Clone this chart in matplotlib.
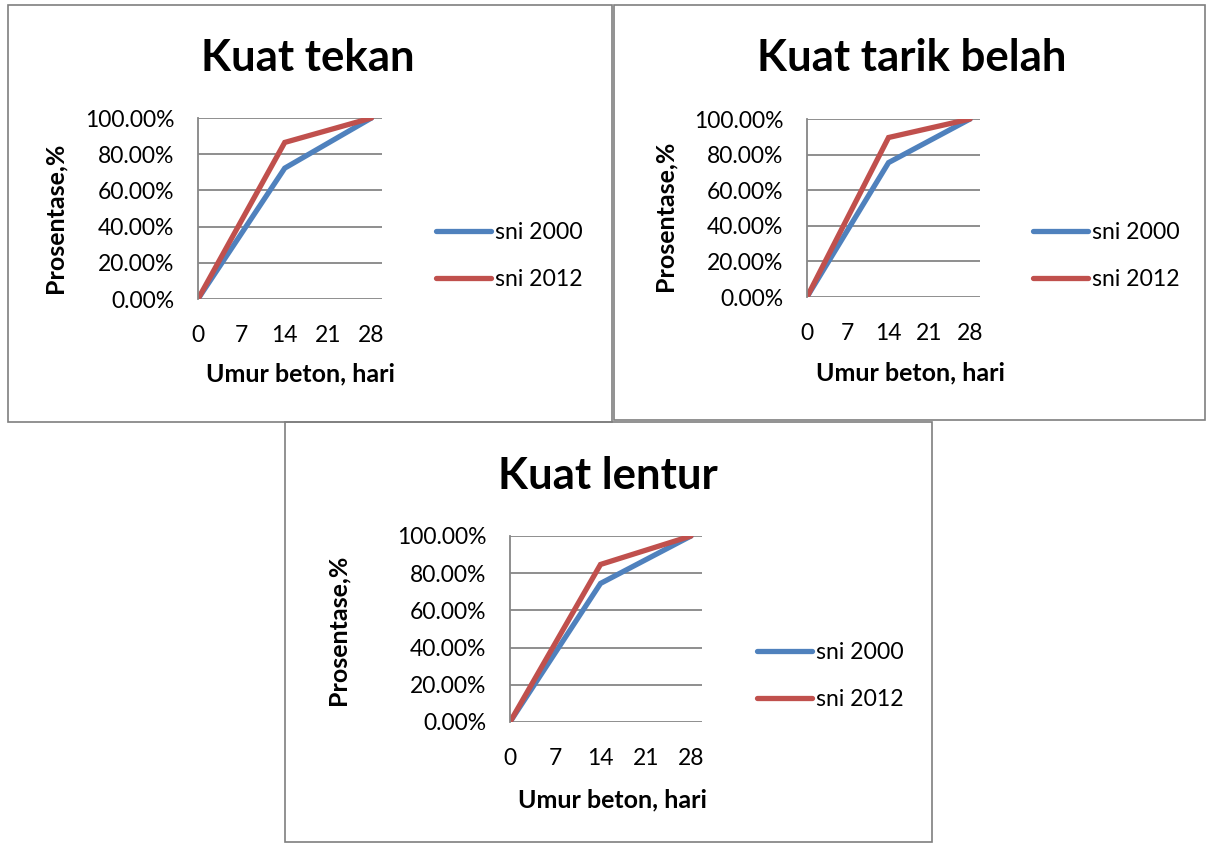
import numpy as np
import matplotlib
matplotlib.use('Agg')
import matplotlib.pyplot as plt
from matplotlib.patches import Rectangle
from matplotlib.ticker import PercentFormatter

plt.rcParams['font.family'] = ['Lato', 'DejaVu Sans']

# data
umur = [0, 14, 28]
xticks = [0, 7, 14, 21, 28]
titles = ['Kuat tekan', 'Kuat tarik belah', 'Kuat lentur']
sni_2000 = [[0, 72.3, 100], [0, 75.5, 100], [0, 74.5, 100]]
sni_2012 = [[0, 86.5, 100], [0, 89.6, 100], [0, 84.7, 100]]
series_names = ['sni 2000', 'sni 2012']

W, H = 1207, 843
fig = plt.figure(figsize=(W / 100, H / 100), dpi=100)


def fx(x):
    return x / W


def fy(y):
    return 1 - y / H


# panel layout in pixels
panels = [
    dict(box=(8, 5, 612, 422), ax=(198, 118, 382, 299), title=(308, 58),
         xlab=(301, 374), ylab=(55, 218), leg=(436, 232)),
    dict(box=(614, 5, 1205, 420), ax=(807, 119, 980, 297), title=(912, 58),
         xlab=(911, 373), ylab=(665, 216), leg=(1033, 232)),
    dict(box=(285, 422, 932, 842), ax=(510, 536, 702, 722), title=(608, 476),
         xlab=(613, 800), ylab=(338, 630), leg=(757, 652)),
]

blue = '#4F81BD'
red = '#C0504D'
grid = '#868686'

for i, p in enumerate(panels):
    x0, y0, x1, y1 = p['box']
    fig.patches.append(Rectangle((fx(x0), fy(y1)), fx(x1 - x0), (y1 - y0) / H,
                                 transform=fig.transFigure, fill=False,
                                 edgecolor='#7f7f7f', linewidth=1.2))

    a0, b0, a1, b1 = p['ax']
    ax = fig.add_axes([fx(a0), fy(b1), fx(a1 - a0), (b1 - b0) / H])
    l1, = ax.plot(umur, sni_2000[i], color=blue, linewidth=3.8,
                  solid_capstyle='round', solid_joinstyle='miter')
    l2, = ax.plot(umur, sni_2012[i], color=red, linewidth=3.8,
                  solid_capstyle='round', solid_joinstyle='miter')
    ax.set_xlim(0, 29.7)
    ax.set_ylim(0, 100)
    ax.set_xticks(xticks)
    ax.set_yticks(np.arange(0, 101, 20))
    ax.yaxis.set_major_formatter(PercentFormatter(decimals=2))
    ax.grid(axis='y', color=grid, linewidth=1.3)
    ax.set_axisbelow(True)
    for s in ['top', 'right', 'bottom']:
        ax.spines[s].set_visible(False)
    ax.spines['left'].set_color(grid)
    ax.spines['left'].set_linewidth(1.3)
    ax.tick_params(length=0, labelsize=16.5, colors='black')
    ax.tick_params(axis='y', pad=17)
    ax.tick_params(axis='x', pad=19)

    fig.text(fx(p['title'][0]), fy(p['title'][1]), titles[i], ha='center',
             va='center', fontsize=31.5, fontweight='bold')
    fig.text(fx(p['xlab'][0]), fy(p['xlab'][1]), 'Umur beton, hari',
             ha='center', va='center', fontsize=18, fontweight='bold')
    fig.text(fx(p['ylab'][0]), fy(p['ylab'][1]), 'Prosentase,%',
             ha='center', va='center', fontsize=18, fontweight='bold',
             rotation=90)

    lx, ly = p['leg']
    fig.legend([l1, l2], series_names, loc='center left',
               bbox_to_anchor=(fx(lx), fy(ly + 24)),
               frameon=False, fontsize=16.6, handlelength=2.38,
               handletextpad=0.17, labelspacing=1.12, borderpad=0,
               borderaxespad=0)

fig.savefig('out.png', dpi=100, facecolor='white')
